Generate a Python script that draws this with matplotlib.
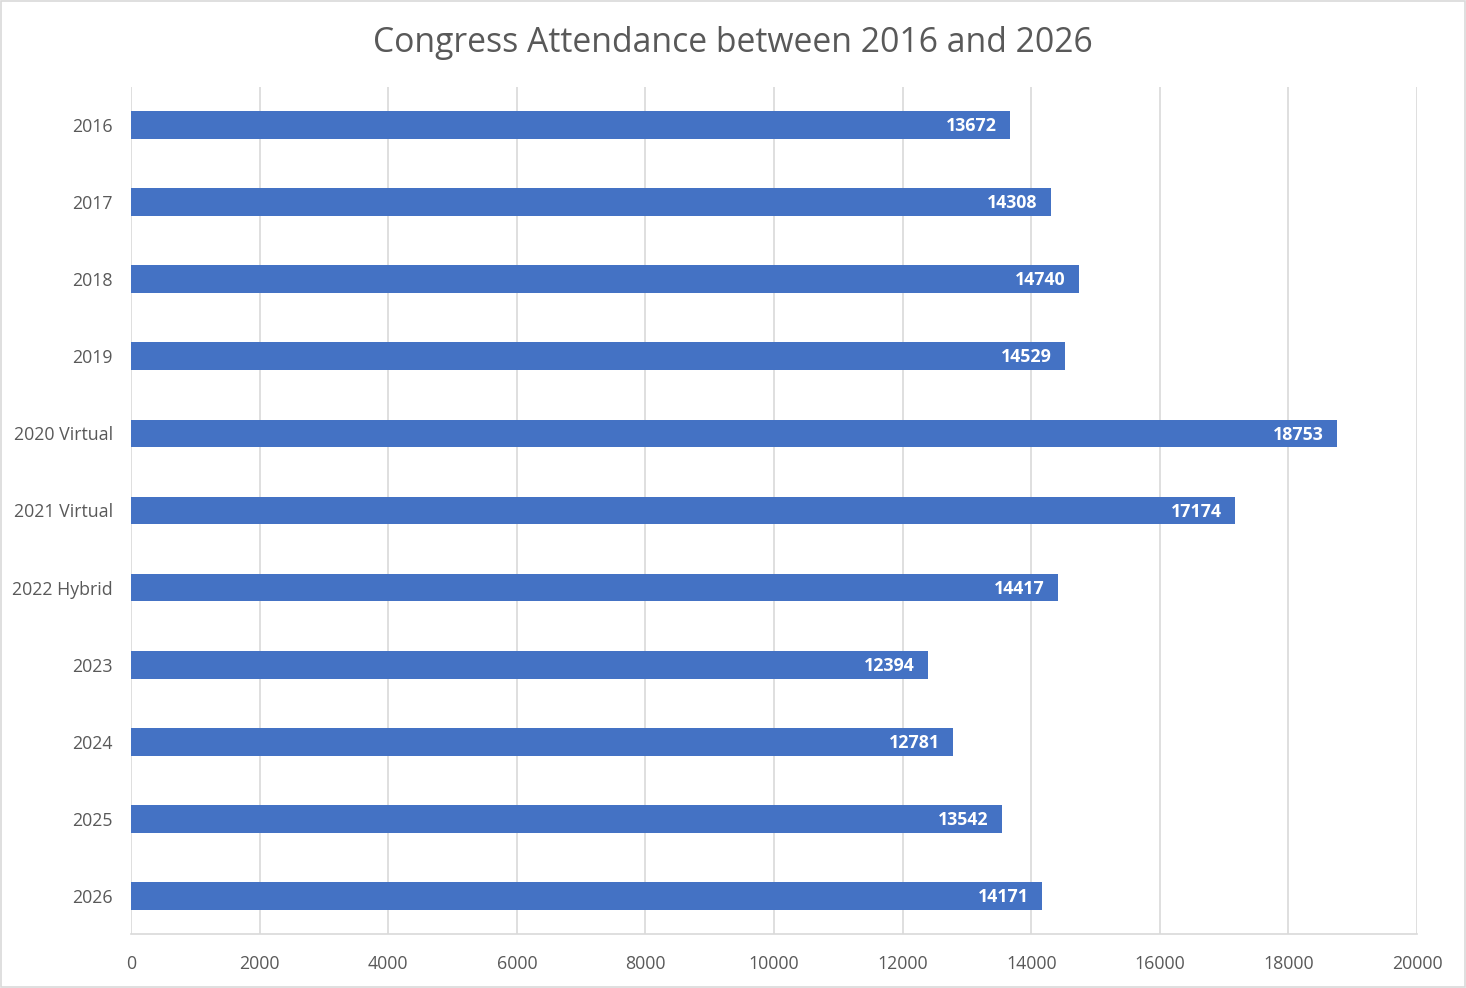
import numpy as np
import matplotlib.pyplot as plt
from matplotlib.patches import Rectangle

plt.rcParams['font.family'] = ['Open Sans', 'DejaVu Sans']

years = ['2016', '2017', '2018', '2019', '2020 Virtual', '2021 Virtual',
         '2022 Hybrid', '2023', '2024', '2025', '2026']
attendance = [13672, 14308, 14740, 14529, 18753, 17174,
              14417, 12394, 12781, 13542, 14171]

fig = plt.figure(figsize=(14.66, 9.88), dpi=100)
ax = fig.add_axes([0.0894, 0.0542, 0.8772, 0.8582])

pos = np.arange(len(years))
bars = ax.barh(pos, attendance, height=0.36, color='#4472c4', zorder=3)
ax.set_ylim(len(years) - 0.5, -0.5)
ax.set_xlim(0, 20000)
ax.set_xticks(np.arange(0, 20001, 2000))
ax.set_yticks(pos)
ax.set_yticklabels(years)

for b, v in zip(bars, attendance):
    ax.annotate(str(v), (v, b.get_y() + b.get_height() / 2),
                xytext=(-9.5, -0.8), textcoords='offset points',
                ha='right', va='center', color='white',
                fontsize=12.8, fontweight='bold', zorder=4)

ax.grid(axis='x', color='#d9d9d9', linewidth=1.2, zorder=0)
for s in ['top', 'right', 'left']:
    ax.spines[s].set_visible(False)
ax.spines['bottom'].set_color('#d9d9d9')
ax.spines['bottom'].set_linewidth(1.2)
ax.tick_params(axis='both', length=0, labelsize=12.8, colors='#595959')
ax.tick_params(axis='x', pad=14.5)
ax.tick_params(axis='y', pad=13)

fig.text(0.5, 0.9565, 'Congress Attendance between 2016 and 2026',
         ha='center', va='center', fontsize=24.3, color='#595959')

fig.patches.append(Rectangle((0.001, 0.001), 0.998, 0.998, transform=fig.transFigure,
                             fill=False, edgecolor='#d9d9d9', linewidth=1.2))

fig.savefig('out.png', dpi=100)
